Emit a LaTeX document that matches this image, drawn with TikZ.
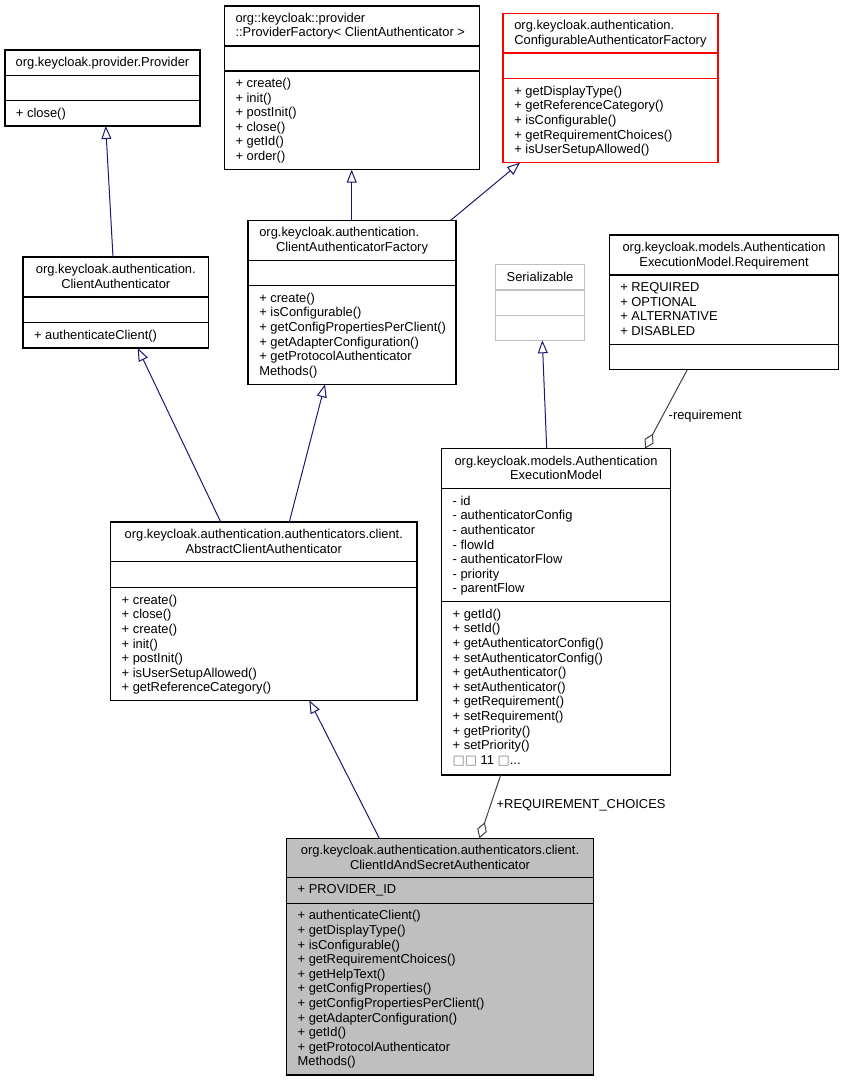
\documentclass[tikz,border=0pt]{standalone}
\usepackage{fontspec}
\setmainfont{Liberation Sans}
\newfontfamily\dejavu{DejaVu Sans}
\usetikzlibrary{arrows.meta,calc}
\definecolor{navyc}{HTML}{191970}
\definecolor{aggc}{HTML}{404040}
\definecolor{cgray}{HTML}{BFBFBF}
\definecolor{cred}{HTML}{FF0000}
\tikzset{
  classbox/.style={draw=black,line width=1.1pt,inner sep=0pt,outer sep=0pt},
  txt/.style={inner sep=0pt,outer sep=0pt,font=\fontsize{12.9}{14.6}\selectfont,text=black},
  inh/.style={draw=navyc,line width=1pt,-{Triangle[open,length=13pt,width=10pt]}},
  agg/.style={draw=aggc,line width=1pt,{Diamond[open,length=17pt,width=10pt]}-},
}
% name, x1, y1, x2, y2, style
\newcommand\umlbox[6]{\node[classbox,#6,anchor=north west,minimum width={#4-#2},minimum height={#5-#3}] (#1) at (#2,#3) {};}
% colour, x1, x2, y
\newcommand\umlsep[4]{\draw[draw=#1,line width=1.1pt] (#2,#4) -- (#3,#4);}
% name, x, first baseline, list
\newcommand\umllines[4]{\foreach \mline [count=\i from 0] in {#4}{\node[txt,anchor=base west] (#1\i) at (#2,{#3+\i*14.6}) {\mline};}}
\begin{document}
\begin{tikzpicture}[x=1pt,y=-1pt]
\useasboundingbox (0,0) rectangle (844,1081);

% Provider
\umlbox{prov}{5}{50}{200}{126}{}
\umlsep{black}{5}{200}{75.3}
\umlsep{black}{5}{200}{100.7}
\node[txt,anchor=base] (provt) at (102.5,66.5) {org.keycloak.provider.Provider};
\umllines{provm}{16}{117.2}{+ close()}

% ProviderFactory
\umlbox{pf}{224.7}{6}{479.3}{169.7}{}
\umlsep{black}{224.7}{479.3}{46}
\umlsep{black}{224.7}{479.3}{71}
\node[txt,anchor=base west] (pft1) at (235.5,22.5) {org::keycloak::provider};
\node[txt,anchor=base west] (pft2) at (235.5,37) {::ProviderFactory< ClientAuthenticator >};
\umllines{pfm}{235.5}{87.5}{+ create(),+ init(),+ postInit(),+ close(),+ getId(),+ order()}

% ConfigurableAuthenticatorFactory
\umlbox{conf}{503}{13.3}{718}{162.7}{draw=cred}
\umlsep{cred}{503}{718}{53}
\umlsep{cred}{503}{718}{78.7}
\node[txt,anchor=base west] (conft1) at (514.3,29.8) {org.keycloak.authentication.};
\node[txt,anchor=base west] (conft2) at (514.3,44.3) {ConfigurableAuthenticatorFactory};
\umllines{confm}{514.3}{95.2}{+ getDisplayType(),+ getReferenceCategory(),+ isConfigurable(),+ getRequirementChoices(),+ isUserSetupAllowed()}

% ClientAuthenticator
\umlbox{ca}{23}{257}{208.7}{348}{}
\umlsep{black}{23}{208.7}{297}
\umlsep{black}{23}{208.7}{322.7}
\node[txt,anchor=base] (cat1) at (115.8,273.5) {org.keycloak.authentication.};
\node[txt,anchor=base] (cat2) at (115.8,288) {ClientAuthenticator};
\umllines{cam}{34}{339.2}{+ authenticateClient()}

% ClientAuthenticatorFactory
\umlbox{caf}{248}{220.3}{456}{384.3}{}
\umlsep{black}{248}{456}{260.7}
\umlsep{black}{248}{456}{285.7}
\node[txt,anchor=base west] (caft1) at (259.3,236.8) {org.keycloak.authentication.};
\node[txt,anchor=base] (caft2) at (352,251.3) {ClientAuthenticatorFactory};
\umllines{cafm}{259.3}{302.2}{+ create(),+ isConfigurable(),+ getConfigPropertiesPerClient(),+ getAdapterConfiguration(),+ getProtocolAuthenticator,Methods()}

% Serializable
\umlbox{ser}{495.3}{264.7}{584.7}{340.3}{draw=cgray}
\umlsep{cgray}{495.3}{584.7}{290}
\umlsep{cgray}{495.3}{584.7}{315.3}
\node[txt,anchor=base] (sert) at (540,281.2) {Serializable};

% Requirement
\umlbox{req}{609.3}{235}{838.7}{369.7}{}
\umlsep{black}{609.3}{838.7}{275}
\umlsep{black}{609.3}{838.7}{344.3}
\node[txt,anchor=base] (reqt1) at (724,251.5) {org.keycloak.models.Authentication};
\node[txt,anchor=base] (reqt2) at (724,266) {ExecutionModel.Requirement};
\umllines{reqa}{620.3}{291.5}{+ REQUIRED,+ OPTIONAL,+ ALTERNATIVE,+ DISABLED}

% AuthenticationExecutionModel
\umlbox{em}{441.3}{448.7}{670.7}{775}{}
\umlsep{black}{441.3}{670.7}{488.7}
\umlsep{black}{441.3}{670.7}{601.7}
\node[txt,anchor=base] (emt1) at (556,465.2) {org.keycloak.models.Authentication};
\node[txt,anchor=base] (emt2) at (556,479.7) {ExecutionModel};
\umllines{ema}{452.7}{505.2}{- id,- authenticatorConfig,- authenticator,- flowId,- authenticatorFlow,- priority,- parentFlow}
\umllines{emm}{452.7}{618.2}{+ getId(),+ setId(),+ getAuthenticatorConfig(),+ setAuthenticatorConfig(),+ getAuthenticator(),+ setAuthenticator(),+ getRequirement(),+ setRequirement(),+ getPriority(),+ setPriority()}
\node[txt,anchor=base west] (emmore) at (452.7,764.2) {{\dejavu\color{gray}□□} 11 {\dejavu\color{gray}□}...};

% AbstractClientAuthenticator
\umlbox{aca}{110.7}{522}{417}{700.3}{}
\umlsep{black}{110.7}{417}{561.7}
\umlsep{black}{110.7}{417}{587.7}
\node[txt,anchor=base] (acat1) at (263.8,538.5) {org.keycloak.authentication.authenticators.client.};
\node[txt,anchor=base] (acat2) at (263.8,553) {AbstractClientAuthenticator};
\umllines{acam}{121.7}{604.2}{+ create(),+ close(),+ create(),+ init(),+ postInit(),+ isUserSetupAllowed(),+ getReferenceCategory()}

% ClientIdAndSecretAuthenticator
\umlbox{cias}{286.7}{838.3}{593.3}{1075}{fill=cgray}
\umlsep{black}{286.7}{593.3}{877.3}
\umlsep{black}{286.7}{593.3}{903.3}
\node[txt,anchor=base] (ciast1) at (440,854.8) {org.keycloak.authentication.authenticators.client.};
\node[txt,anchor=base] (ciast2) at (440,869.3) {ClientIdAndSecretAuthenticator};
\umllines{ciasa}{297.7}{893.8}{+ PROVIDER\_ID}
\umllines{ciasm}{297.7}{919.8}{+ authenticateClient(),+ getDisplayType(),+ isConfigurable(),+ getRequirementChoices(),+ getHelpText(),+ getConfigProperties(),+ getConfigPropertiesPerClient(),+ getAdapterConfiguration(),+ getId(),+ getProtocolAuthenticator,Methods()}

% inheritance
\draw[inh] ($(ca.north west)+(90,0)$) -- ($(prov.south west)+(100.7,0)$);
\draw[inh] ($(caf.north west)+(103.7,0)$) -- ($(pf.south west)+(127,0)$);
\draw[inh] ($(caf.north west)+(202.7,0)$) -- ($(conf.south west)+(17,0)$);
\draw[inh] ($(aca.north west)+(110,0)$) -- ($(ca.south west)+(114.7,0)$);
\draw[inh] ($(aca.north west)+(178.6,0)$) -- ($(caf.south west)+(77,0)$);
\draw[inh] ($(cias.north west)+(92.6,0)$) -- ($(aca.south west)+(198.6,0)$);
\draw[inh] ($(em.north west)+(105.4,0)$) -- ($(ser.south west)+(47,0)$);

% aggregation
\draw[agg] ($(em.north west)+(203.7,0)$) -- ($(req.south west)+(78,0)$);
\draw[agg] ($(cias.north west)+(192.6,0)$) -- ($(em.south west)+(59.4,0)$);
\node[txt,anchor=base west] (lreq) at (668.7,419.3) {-requirement};
\node[txt,anchor=base west] (lrc) at (496.7,808.3) {+REQUIREMENT\_CHOICES};
\end{tikzpicture}
\end{document}
